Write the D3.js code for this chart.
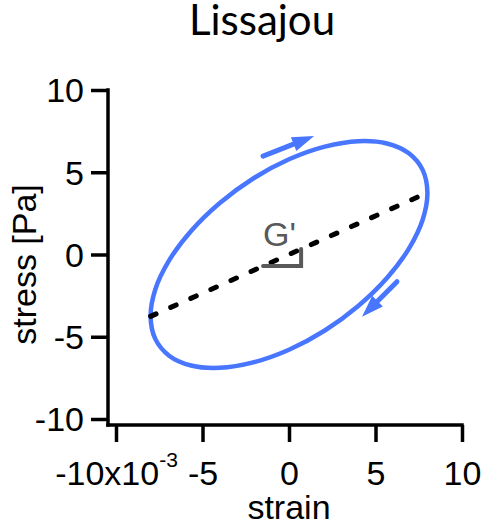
<!DOCTYPE html>
<html>
<head>
<meta charset="utf-8">
<script src="https://cdn.jsdelivr.net/npm/d3@7"></script>
<style>
  html, body { margin: 0; padding: 0; background: #fff; }
  svg { display: block; }
</style>
</head>
<body>
<svg id="chart" width="487" height="532"></svg>
<script>
// Lissajous loop of one oscillation cycle: strain (x10^-3) vs stress (Pa)
const strain = [0, 2.07, 4.00, 5.66, 6.93, 7.73, 8.00, 7.73, 6.93, 5.66, 4.00, 2.07,
                0, -2.07, -4.00, -5.66, -6.93, -7.73, -8.00, -7.73, -6.93, -5.66, -4.00, -2.07];
const stress = [5.79, 6.56, 6.89, 6.75, 6.15, 5.13, 3.76, 2.13, 0.36, -1.43, -3.13, -4.62,
                -5.79, -6.56, -6.89, -6.75, -6.15, -5.13, -3.76, -2.13, -0.36, 1.43, 3.13, 4.62];

// Storage-modulus line through the points of maximum strain
const gLineStrain = [-8.00, 8.00];
const gLineStress = [-3.76, 3.76];

// Direction-of-travel arrows (tail, tip)
const arrowStrain = [[-1.50, 1.45], [6.24, 4.22]];
const arrowStress = [[5.98, 7.20], [-1.65, -3.78]];

// Slope triangle under the G' label
const slopeRunStrain = [-1.5, 0.7];

const xTickValues = [-10, -5, 0, 5, 10];
const xTickLabels = [["-10x10", "-3"], ["-5"], ["0"], ["5"], ["10"]];
const yTickValues = [-10, -5, 0, 5, 10];
const yTickLabels = ["-10", "-5", "0", "5", "10"];

const svg = d3.select("#chart");
const axisFont = "'Liberation Sans', Arial, sans-serif";
const fontSize = 34;
const blue = "#4876ff";
const grey = "#595959";

const x = d3.scaleLinear().domain([-10, 10]).range([116, 462]);
const y = d3.scaleLinear().domain([-10, 10]).range([419, 90]);

const yAxisX = x(-10) - 8;
const xAxisY = y(-10) + 6;
const axisW = 3.5;

// Title
svg.append("text")
  .attr("x", 262).attr("y", 35)
  .attr("text-anchor", "middle")
  .attr("font-family", "Lato, 'Open Sans', sans-serif")
  .attr("font-size", 42)
  .attr("fill", "#000")
  .text("Lissajou");

// Axes
const gx = svg.append("g")
  .attr("transform", `translate(0,${xAxisY})`)
  .call(d3.axisBottom(x).tickValues(xTickValues).tickSize(17).tickSizeOuter(0).tickPadding(19));
const gy = svg.append("g")
  .attr("transform", `translate(${yAxisX},0)`)
  .call(d3.axisLeft(y).tickValues(yTickValues).tickSize(17).tickSizeOuter(0).tickPadding(7)
        .tickFormat((d, i) => yTickLabels[i]));

[gx, gy].forEach(g => {
  g.select(".domain").remove();
  g.selectAll(".tick line").attr("stroke", "#000").attr("stroke-width", axisW);
  g.selectAll(".tick text")
    .attr("font-family", axisFont).attr("font-size", fontSize).attr("fill", "#000");
});
gy.selectAll(".tick text").attr("dy", "0.35em");

gx.selectAll(".tick text").each(function (d, i) {
  const t = d3.select(this);
  const lab = xTickLabels[i];
  t.text(null);
  t.append("tspan").text(lab[0]);
  if (lab[1]) {
    t.append("tspan").attr("dy", -18).attr("font-size", 21).text(lab[1]);
  }
});

// Axis lines, offset from the data area
svg.append("line")
  .attr("x1", yAxisX).attr("x2", yAxisX)
  .attr("y1", y(10) - axisW / 2).attr("y2", xAxisY + axisW / 2)
  .attr("stroke", "#000").attr("stroke-width", axisW);
svg.append("line")
  .attr("x1", yAxisX - axisW / 2).attr("x2", x(10) + axisW / 2)
  .attr("y1", xAxisY).attr("y2", xAxisY)
  .attr("stroke", "#000").attr("stroke-width", axisW);

// Axis titles
svg.append("text")
  .attr("x", x(0)).attr("y", 519)
  .attr("text-anchor", "middle")
  .attr("font-family", axisFont).attr("font-size", fontSize)
  .text("strain");
svg.append("text")
  .attr("transform", `translate(36,${(y(10) + y(-10)) / 2 + 10}) rotate(-90)`)
  .attr("text-anchor", "middle")
  .attr("font-family", axisFont).attr("font-size", fontSize)
  .text("stress [Pa]");

// Loop
const pts = strain.map((s, i) => [s, stress[i]]);
svg.append("path")
  .datum(pts)
  .attr("d", d3.line().x(d => x(d[0])).y(d => y(d[1])).curve(d3.curveCatmullRomClosed))
  .attr("fill", "none")
  .attr("stroke", blue)
  .attr("stroke-width", 4.5);

// G' line
svg.append("line")
  .attr("x1", x(gLineStrain[0])).attr("y1", y(gLineStress[0]))
  .attr("x2", x(gLineStrain[1])).attr("y2", y(gLineStress[1]))
  .attr("stroke", "#000")
  .attr("stroke-width", 5)
  .attr("stroke-linecap", "round")
  .attr("stroke-dasharray", "6,16");

// Slope triangle and label
const slope = (gLineStress[1] - gLineStress[0]) / (gLineStrain[1] - gLineStrain[0]);
const s0 = slopeRunStrain[0], s1 = slopeRunStrain[1];
svg.append("path")
  .attr("d", `M${x(s0)},${y(s0 * slope)} H${x(s1)} V${y(s1 * slope)}`)
  .attr("fill", "none")
  .attr("stroke", grey)
  .attr("stroke-width", 4)
  .attr("stroke-linecap", "round");
svg.append("text")
  .attr("x", x(s0)).attr("y", y(0.5))
  .attr("font-family", axisFont).attr("font-size", fontSize)
  .attr("fill", grey)
  .text("G'");

// Arrows
arrowStrain.forEach((sx, i) => {
  const sy = arrowStress[i];
  const x0 = x(sx[0]), y0 = y(sy[0]), x1 = x(sx[1]), y1 = y(sy[1]);
  const ang = Math.atan2(y1 - y0, x1 - x0);
  const headLen = 22, headHalf = 7.5;
  const bx = x1 - headLen * Math.cos(ang), by = y1 - headLen * Math.sin(ang);
  svg.append("line")
    .attr("x1", x0).attr("y1", y0).attr("x2", bx + 4 * Math.cos(ang)).attr("y2", by + 4 * Math.sin(ang))
    .attr("stroke", blue).attr("stroke-width", 5).attr("stroke-linecap", "round");
  const px = -Math.sin(ang) * headHalf, py = Math.cos(ang) * headHalf;
  svg.append("path")
    .attr("d", `M${x1},${y1} L${bx + px},${by + py} L${bx - px},${by - py} Z`)
    .attr("fill", blue);
});
</script>
</body>
</html>
